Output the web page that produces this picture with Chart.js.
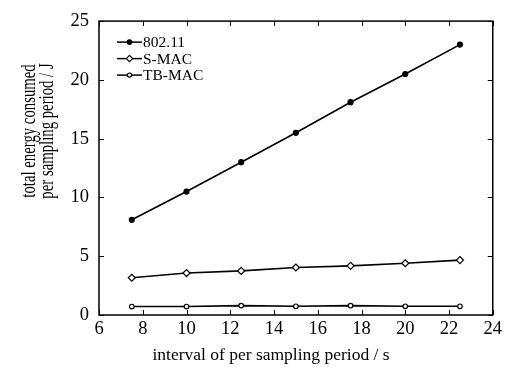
<!DOCTYPE html>
<html>
<head>
<meta charset="utf-8">
<script src="https://cdn.jsdelivr.net/npm/chart.js@4"></script>
<style>
  html, body { margin: 0; padding: 0; background: #fff; }
  #wrap { width: 505px; height: 369px; }
</style>
</head>
<body>
<div id="wrap"><canvas id="c" width="505" height="369"></canvas></div>
<script>
const intervals = [7.5, 10, 12.5, 15, 17.5, 20, 22.5];
const e80211 = [8.1, 10.5, 13.0, 15.5, 18.1, 20.5, 23.0];
const eSMAC = [3.17, 3.57, 3.75, 4.04, 4.18, 4.4, 4.67];
const eTBMAC = [0.72, 0.72, 0.8, 0.74, 0.8, 0.74, 0.74];
const seriesNames = ['802.11', 'S-MAC', 'TB-MAC'];
const xTitle = 'interval of per sampling period / s';
const yTitle = ['total energy consumed', 'per sampling period / J'];

const FONT = "'Liberation Serif', 'Times New Roman', serif";

function pts(ys) {
  return intervals.map((x, i) => ({x: x, y: ys[i]}));
}

// inside ticks on all four sides + frame
const frameTicks = {
  id: 'frameTicks',
  afterDraw(chart) {
    const {ctx, chartArea: a, scales: {x, y}} = chart;
    ctx.save();
    ctx.strokeStyle = '#000';
    ctx.lineWidth = 1.5;
    ctx.strokeRect(a.left, a.top, a.right - a.left, a.bottom - a.top);
    ctx.lineWidth = 1;
    const len = 5;
    ctx.beginPath();
    x.ticks.forEach(t => {
      const px = Math.round(x.getPixelForValue(t.value)) + 0.5;
      ctx.moveTo(px, a.bottom); ctx.lineTo(px, a.bottom - len);
      ctx.moveTo(px, a.top); ctx.lineTo(px, a.top + len);
    });
    y.ticks.forEach(t => {
      const py = Math.round(y.getPixelForValue(t.value)) + 0.5;
      ctx.moveTo(a.left, py); ctx.lineTo(a.left + len, py);
      ctx.moveTo(a.right, py); ctx.lineTo(a.right - len, py);
    });
    ctx.stroke();
    ctx.restore();
  }
};

// axis titles, placed like the original figure
const titles = {
  id: 'titles',
  afterDraw(chart) {
    const ctx = chart.ctx;
    ctx.save();
    ctx.fillStyle = '#000';
    ctx.textAlign = 'center';
    ctx.textBaseline = 'middle';
    ctx.font = '17.5px ' + FONT;
    ctx.fillText(xTitle, 271, 355);
    ctx.font = '20.5px ' + FONT;
    yTitle.forEach((line, i) => {
      ctx.save();
      ctx.translate(30 + i * 18, 131);
      ctx.rotate(-Math.PI / 2);
      ctx.scale(0.72, 1);
      ctx.fillText(line, 0, 0);
      ctx.restore();
    });
    ctx.restore();
  }
};

// legend box inside the plot, top left
const innerLegend = {
  id: 'innerLegend',
  afterDraw(chart) {
    const {ctx, chartArea: a} = chart;
    ctx.save();
    ctx.font = '15.5px ' + FONT;
    ctx.textBaseline = 'middle';
    chart.data.datasets.forEach((ds, i) => {
      const yy = a.top + 21 + i * 16.5;
      const x0 = a.left + 18, x1 = a.left + 43;
      ctx.strokeStyle = '#000';
      ctx.lineWidth = 1.5;
      ctx.beginPath(); ctx.moveTo(x0, yy); ctx.lineTo(x1, yy); ctx.stroke();
      ctx.fillStyle = ds.pointBackgroundColor;
      ctx.lineWidth = 1.2;
      Chart.helpers.drawPoint(ctx, {
        pointStyle: ds.pointStyle, radius: ds.pointRadius * 0.9, borderWidth: 1.2, rotation: 0
      }, (x0 + x1) / 2, yy);
      ctx.fillStyle = '#000';
      ctx.fillText(ds.label, x1 + 1, yy + 1);
    });
    ctx.restore();
  }
};

function ds(label, ys, style, r, fill) {
  return {
    label: label,
    data: pts(ys),
    borderColor: '#000',
    borderWidth: 1.6,
    pointStyle: style,
    pointRadius: r,
    pointBorderWidth: 1.2,
    pointBorderColor: '#000',
    pointBackgroundColor: fill,
    backgroundColor: fill,
    tension: 0
  };
}

new Chart(document.getElementById('c'), {
  type: 'line',
  data: {
    datasets: [
      ds(seriesNames[0], e80211, 'circle', 2.5, '#000'),
      ds(seriesNames[1], eSMAC, 'rectRot', 3.5, '#fff'),
      ds(seriesNames[2], eTBMAC, 'circle', 2.3, '#fff')
    ]
  },
  options: {
    responsive: false,
    animation: false,
    layout: { padding: { top: 14, right: 12, left: 0, bottom: 0 } },
    plugins: { legend: { display: false }, tooltip: { enabled: false } },
    scales: {
      x: {
        type: 'linear', min: 6, max: 24,
        ticks: { stepSize: 2, color: '#000', font: { family: FONT, size: 18.5 }, padding: 3, maxRotation: 0 },
        grid: { display: false, drawTicks: false },
        border: { display: false },
        afterFit(s) { s.height = 54; }
      },
      y: {
        min: 0, max: 25,
        ticks: { stepSize: 5, color: '#000', font: { family: FONT, size: 18.5 }, padding: 10 },
        grid: { display: false, drawTicks: false },
        border: { display: false },
        afterFit(s) { s.width = 99; }
      }
    }
  },
  plugins: [frameTicks, titles, innerLegend]
});
</script>
</body>
</html>
